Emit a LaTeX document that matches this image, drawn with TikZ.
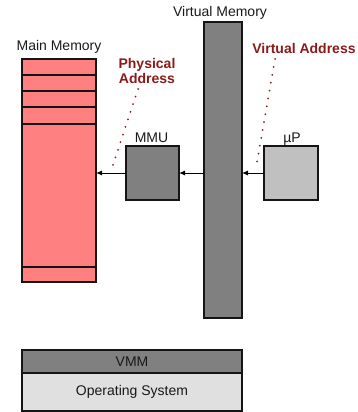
\documentclass[tikz,border=0pt]{standalone}
\usepackage{fontspec}
\setmainfont{Liberation Sans}
\usetikzlibrary{arrows.meta}
\definecolor{memfill}{HTML}{FF8080}
\definecolor{unitgray}{HTML}{808080}
\definecolor{cpugray}{HTML}{C0C0C0}
\definecolor{osfill}{HTML}{E0E0E0}
\definecolor{addrred}{HTML}{8B1A1A}
\definecolor{edge}{HTML}{151515}
\tikzset{
  block/.style={draw=edge, line width=1.4pt, inner sep=0pt, outer sep=0pt},
  lbl/.style={anchor=base, inner sep=0pt, font=\fontsize{14}{16}\selectfont, text=black!90},
  addr/.style={anchor=base, inner sep=0pt, font=\fontsize{14}{16}\selectfont\bfseries, text=addrred},
  flow/.style={draw=black, line width=1pt, -{Latex[length=6pt,width=5pt]}},
  hint/.style={draw=addrred, line width=2pt, line cap=round, dash pattern=on 0pt off 8pt}
}
\begin{document}
\begin{tikzpicture}[x=1pt,y=-1pt]
\useasboundingbox (0,0) rectangle (358,412);

% memories and units
\node[block, fill=memfill, minimum width=74pt, minimum height=223pt] (mem) at (59,170.5) {};
\foreach \yy in {75,91,107,124,267}
  \draw[draw=edge, line width=1.4pt] (mem.west |- 0,\yy) -- (mem.east |- 0,\yy);
\node[block, fill=unitgray, minimum width=53pt, minimum height=54pt] (mmu) at (152.5,173) {};
\node[block, fill=unitgray, minimum width=38pt, minimum height=296pt] (vm) at (223,170) {};
\node[block, fill=cpugray, minimum width=54pt, minimum height=54pt] (up) at (291,173) {};

% software stack
\node[block, fill=unitgray, minimum width=220pt, minimum height=23pt] (vmm) at (132,361.5) {};
\node[block, fill=osfill, minimum width=220pt, minimum height=38pt, anchor=north] (os) at (vmm.south) {};
\node[lbl, anchor=center] (vmmtxt) at (vmm.center) {VMM};
\node[lbl, anchor=center] (ostxt) at (os.center) {Operating System};

% labels
\node[lbl] (memlbl) at (59,51) {Main Memory};
\node[lbl] (vmlbl) at (220,17) {Virtual Memory};
\node[lbl] (mmulbl) at (151.5,142) {MMU};
\node[lbl] (uplbl) at (292,142) {µP};
\node[addr] (pa1) at (147,68) {Physical};
\node[addr] (pa2) at (147,83) {Address};
\node[addr] (va) at (304,53) {Virtual Address};

% address flow
\draw[flow] (up.west) -- (up.west -| vm.east);
\draw[flow] (vm.west |- mmu.west) -- (mmu.east);
\draw[flow] (mmu.west) -- (mmu.west -| mem.east);

% address pointers
\coordinate (pd1) at (138,89);
\coordinate (pd2) at (112,168);
\coordinate (vd1) at (275,59);
\coordinate (vd2) at (256,168);
\draw[hint] (pd1) -- (pd2);
\draw[hint] (vd1) -- (vd2);
\end{tikzpicture}
\end{document}
